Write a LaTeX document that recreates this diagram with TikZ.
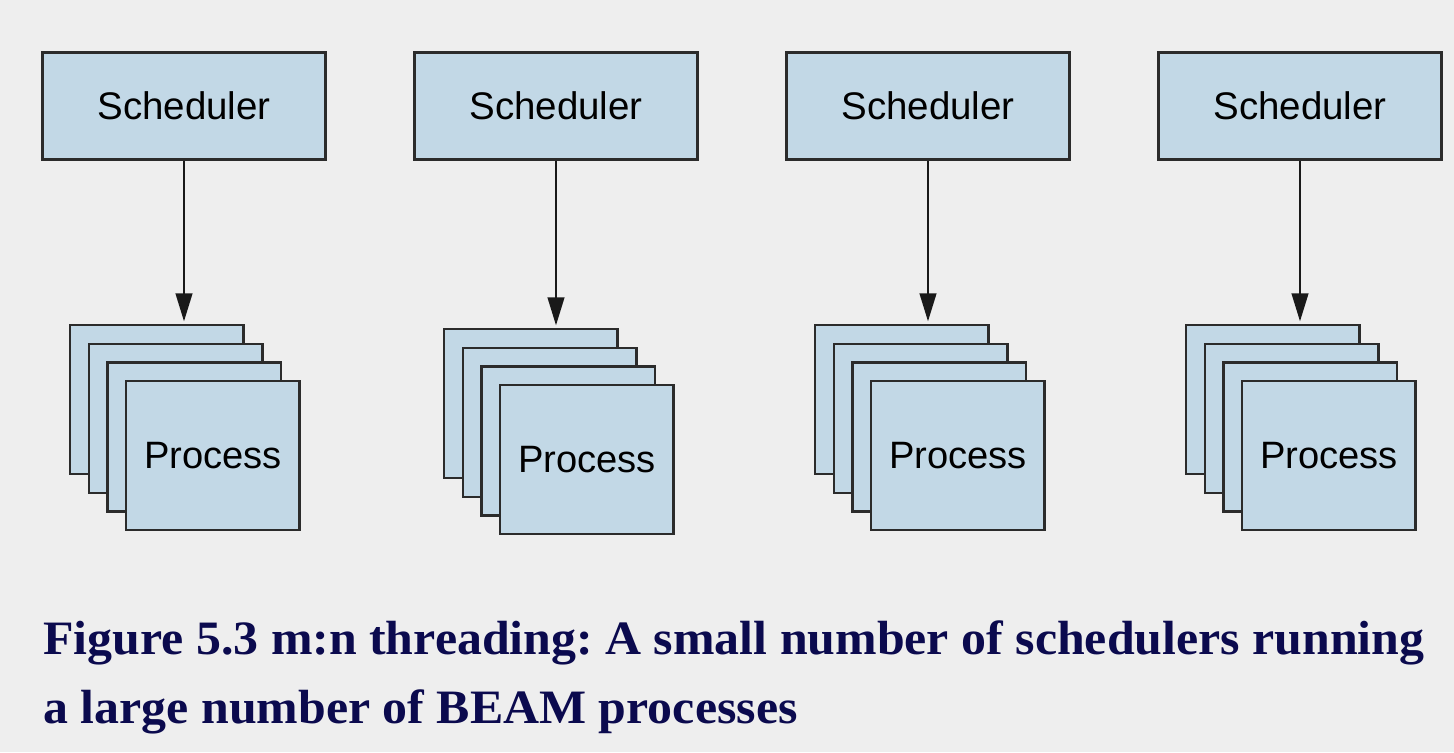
\documentclass[tikz,border=0pt]{standalone}
\usepackage{fontspec}
\setmainfont{Liberation Serif}
\newfontfamily\boxfont{Liberation Sans}
\newfontfamily\capfont{Liberation Serif}[FakeStretch=1.04]
\usetikzlibrary{arrows.meta}
\definecolor{bg}{HTML}{EEEEEE}
\definecolor{boxfill}{HTML}{C2D8E6}
\definecolor{edge}{HTML}{2B2B2B}
\definecolor{navy}{HTML}{0B0A4E}
\frenchspacing
\begin{document}
\begin{tikzpicture}[x=0.02cm,y=-0.02cm,
  schedbox/.style={draw=edge, fill=boxfill, line width=1.4pt, minimum width=5.66cm, minimum height=2.14cm, inner sep=0pt, font=\boxfont\fontsize{21.9}{26}\selectfont},
  procbox/.style={draw=edge, fill=boxfill, line width=1.4pt, minimum width=3.47cm, minimum height=2.98cm, inner sep=0pt, anchor=north west, font=\boxfont\fontsize{21.7}{26}\selectfont},
  link/.style={draw=black!90, line width=1.3pt, -{Triangle[length=16pt,width=9.5pt]}, shorten >=1.5pt},
  captext/.style={anchor=base west, inner sep=0pt, text=navy, font=\capfont\bfseries\fontsize{27.3}{32}\selectfont}]
\fill[bg] (0,0) rectangle (1454,752);
\useasboundingbox (0,0) rectangle (1454,752);
\node[schedbox] (s1) at (184,106) {Scheduler};
\node[schedbox] (s2) at (556,106) {Scheduler};
\node[schedbox] (s3) at (928,106) {Scheduler};
\node[schedbox] (s4) at (1300,106) {Scheduler};
\foreach \i/\x/\y in {1/69/324,2/443/328,3/814/324,4/1185/324}{
  \node[procbox] (p\i-a) at (\x,\y) {};
  \node[procbox] (p\i-b) at (\x+18.7,\y+18.7) {};
  \node[procbox] (p\i-c) at (\x+37.3,\y+37.3) {};
  \node[procbox] (p\i-d) at (\x+56,\y+56) {Process};
  \draw[link] (s\i) -- (s\i |- p\i-a.north);
}
\node[captext] (cap1) at (43,654) {Figure 5.3 m:n threading: A small number of schedulers running};
\node[captext] (cap2) at (43,723) {a large number of BEAM processes};
\end{tikzpicture}
\end{document}
